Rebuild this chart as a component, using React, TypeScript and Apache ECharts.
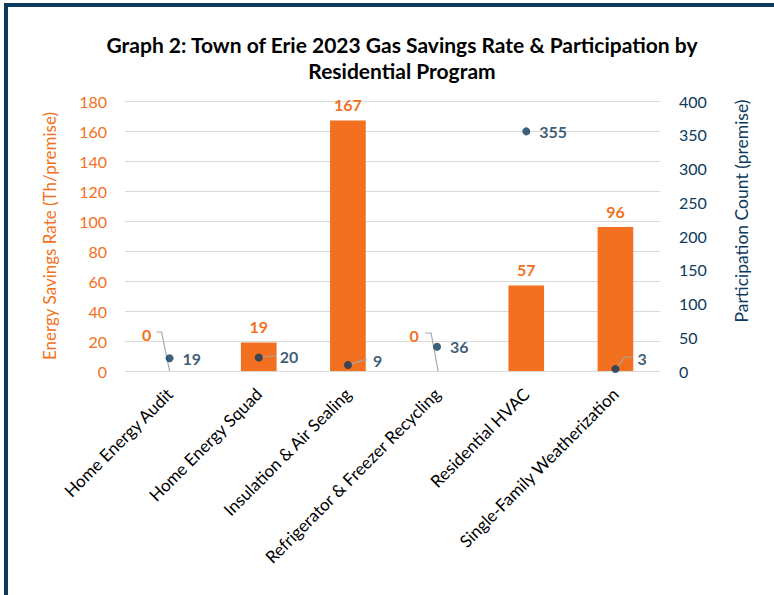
import React, { useEffect, useRef } from "react";
import * as echarts from "echarts";

const categories = [
  "Home Energy Audit",
  "Home Energy Squad",
  "Insulation & Air Sealing",
  "Refrigerator & Freezer Recycling",
  "Residential HVAC",
  "Single-Family Weatherization",
];
const savingsRate = [0, 19, 167, 0, 57, 96];
const participation = [19, 20, 9, 36, 355, 3];
const leftTicks = [0, 20, 40, 60, 80, 100, 120, 140, 160, 180];
const rightTicks = [0, 50, 100, 150, 200, 250, 300, 350, 400];

// which data labels were moved off their default spot and got a leader line
const barLeaderIdx = [0, 3];
const dotLeaderIdx = [1, 2, 5];

const ORANGE = "#F37021";
const NAVY = "#0D3A5C";
const NAVY_TEXT = "#0A3153";
const LEADER = "#A6A6A6";
const FONT = "Lato, 'Open Sans', sans-serif";

// presentation: label displacement (dx, dy) and leader polyline offsets relative to mark anchor
const barLabelMove: Record<number, [number, number]> = { 0: [-23, -21], 3: [-23, -20] };
const barLeaderPts: Record<number, number[][]> = {
  0: [[-13, -39], [-8, -39], [0, 0]],
  3: [[-12, -38], [-6, -38], [1, 0]],
};
const dotLabelMove: Record<number, [number, number]> = { 1: [8, -1], 2: [12, -4], 5: [9, -10] };
const dotLeaderPts: Record<number, number[][]> = {
  1: [[0, 0], [17, -2]],
  2: [[0, 0], [17, -5], [19, -5]],
  5: [[0, 0], [10, -12], [17, -12]],
};

export default function App() {
  const ref = useRef<HTMLDivElement>(null);
  useEffect(() => {
    const chart = echarts.init(ref.current!, null, { renderer: "svg" });
    const leaderRender = (table: Record<number, number[][]>) => (params: any, api: any) => {
      const i = api.value(0);
      const p = api.coord([i, api.value(1)]);
      const pts = (table[i] || []).map(([dx, dy]) => [p[0] + dx, p[1] + dy]);
      return {
        type: "polyline",
        shape: { points: pts },
        style: { stroke: LEADER, lineWidth: 1.2, fill: null },
        silent: true,
      };
    };
    chart.setOption({
      animation: false,
      backgroundColor: "#ffffff",
      title: {
        text: "Graph 2: Town of Erie 2023 Gas Savings Rate & Participation by\nResidential Program",
        left: 397,
        textAlign: "center",
        top: 26,
        textStyle: { fontFamily: FONT, fontWeight: "bold", fontSize: 21, lineHeight: 26, color: "#000" },
      },
      graphic: [
        { type: "rect", shape: { x: 4, y: 3, width: 770, height: 4 }, style: { fill: NAVY } },
        { type: "rect", shape: { x: 4, y: 3, width: 4, height: 592 }, style: { fill: NAVY } },
      ],
      grid: { left: 125, right: 114, top: 101, bottom: 224 },
      xAxis: {
        type: "category",
        data: categories,
        axisLine: { show: false },
        axisTick: { show: false },
        axisLabel: { rotate: 45, interval: 0, margin: 20, fontFamily: FONT, fontSize: 17, color: "#000" },
      },
      yAxis: [
        {
          type: "value",
          min: leftTicks[0],
          max: leftTicks[leftTicks.length - 1],
          interval: 20,
          name: "Energy Savings Rate (Th/premise)",
          nameLocation: "middle",
          nameGap: 67,
          nameTextStyle: { fontFamily: FONT, fontSize: 17, color: ORANGE },
          axisLine: { show: false },
          axisTick: { show: false },
          axisLabel: { margin: 18, fontFamily: FONT, fontSize: 16, color: ORANGE },
          splitLine: { lineStyle: { color: "#D9D9D9", width: 1 } },
        },
        {
          type: "value",
          min: rightTicks[0],
          max: rightTicks[rightTicks.length - 1],
          interval: 50,
          name: "Participation Count (premise)",
          nameLocation: "middle",
          nameGap: 72,
          nameTextStyle: { fontFamily: FONT, fontSize: 17.5, color: NAVY, padding: [0, 0, 0, 50] },
          axisLine: { show: false },
          axisTick: { show: false },
          axisLabel: { margin: 19, fontFamily: FONT, fontSize: 16, color: NAVY },
          splitLine: { show: false },
        },
      ],
      series: [
        {
          type: "bar",
          yAxisIndex: 0,
          z: 2,
          data: savingsRate,
          barWidth: "40%",
          itemStyle: { color: ORANGE },
          label: {
            show: true,
            position: "top",
            distance: 8,
            fontFamily: FONT,
            fontWeight: "bold",
            fontSize: 16,
            color: ORANGE,
          },
          labelLayout: (p: any) => {
            const m = barLabelMove[p.dataIndex];
            return m ? { dx: m[0], dy: m[1] } : {};
          },
        },
        {
          type: "custom",
          yAxisIndex: 0,
          z: 3,
          silent: true,
          data: barLeaderIdx.map((i) => [i, savingsRate[i]]),
          encode: { x: 0, y: 1 },
          renderItem: leaderRender(barLeaderPts),
        },
        {
          type: "custom",
          yAxisIndex: 1,
          z: 3,
          silent: true,
          data: dotLeaderIdx.map((i) => [i, participation[i]]),
          encode: { x: 0, y: 1 },
          renderItem: leaderRender(dotLeaderPts),
        },
        {
          type: "scatter",
          yAxisIndex: 1,
          z: 4,
          data: participation,
          symbol: "circle",
          symbolSize: 8,
          itemStyle: { color: NAVY },
          label: {
            show: true,
            position: "right",
            distance: 9,
            fontFamily: FONT,
            fontWeight: "bold",
            fontSize: 16,
            color: NAVY_TEXT,
          },
          labelLayout: (p: any) => {
            const m = dotLabelMove[p.dataIndex];
            return m ? { dx: m[0], dy: m[1] } : {};
          },
        },
      ],
    });
    return () => chart.dispose();
  }, []);
  return <div ref={ref} style={{ position: "fixed", left: 0, top: 0, width: 774, height: 595 }} />;
}
